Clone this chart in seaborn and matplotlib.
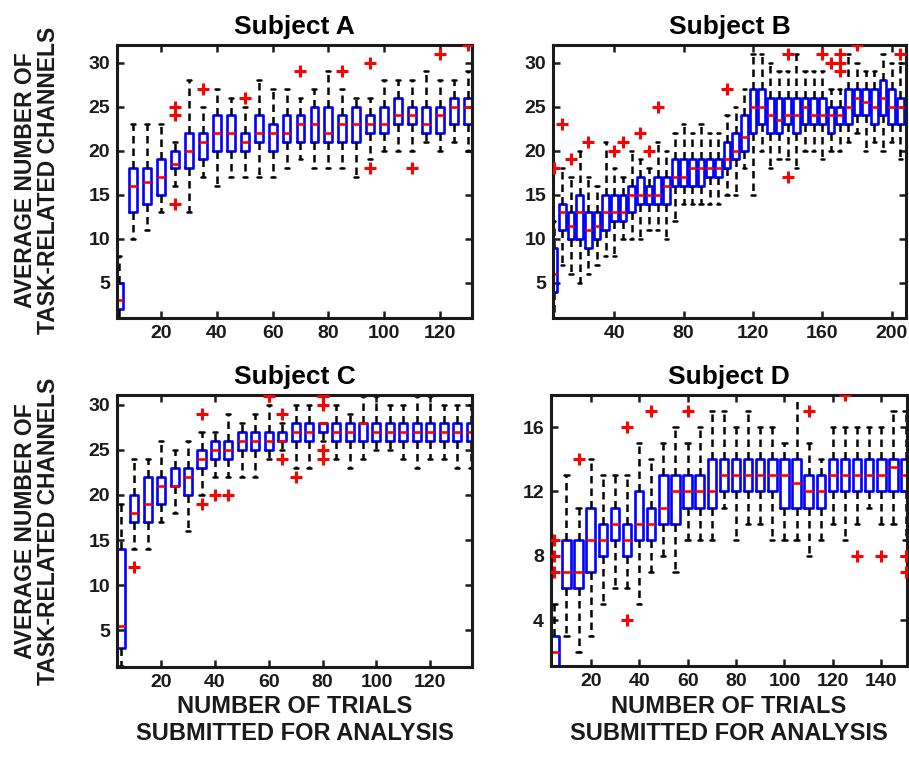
import matplotlib
matplotlib.use("Agg")
import matplotlib.pyplot as plt
import seaborn as sns

# ---------------------------------------------------------------
# Box summaries per subject: trial counts, quartiles, whisker ends,
# and outlying averages (red crosses)
# ---------------------------------------------------------------

# Subject A
A_trials = list(range(5, 131, 5))
A_q1  = [2, 13, 14, 15, 18, 18, 19, 20, 20, 20, 21, 20, 21,
         21, 21, 21, 21, 21, 22, 22, 23, 23, 22, 22, 23, 23]
A_med = [3, 16, 16.5, 17, 18.5, 20, 21, 22, 22, 21, 22, 22, 22,
         23, 23, 22, 23, 23, 23, 23, 24, 24, 23, 24, 25, 25]
A_q3  = [5, 18, 18, 19, 20, 22, 22, 24, 24, 22, 24, 23, 24,
         24, 25, 25, 24, 25, 24, 25, 26, 25, 25, 25, 26, 26]
A_lo  = [1, 10, 11, 13, 16, 13, 17, 16, 17, 17, 17, 17, 18,
         19, 18, 18, 18, 17, 19, 20, 20, 20, 21, 20, 21, 20]
A_hi  = [8, 23, 23, 23, 21, 28, 25, 27, 26, 25, 28, 27, 27,
         26, 27, 29, 27, 26, 26, 28, 28, 28, 29, 28, 28, 29]
A_out_x = [25, 25, 25, 35, 50, 70, 85, 95, 95, 110, 120, 130]
A_out_y = [25, 24, 14, 27, 26, 29, 29, 30, 18, 18, 31, 32]

# Subject B
B_trials = list(range(5, 211, 5))
B_q1  = [4, 11, 10, 10, 9, 10, 11, 12, 12, 13, 14, 14, 14, 14,
         16, 16, 16, 16, 17, 17, 18, 19, 20, 22, 23, 22, 22, 23,
         22, 23, 23, 23, 22, 23, 23, 24, 24, 23, 24, 23, 23, 24]
B_med = [6, 13, 11.5, 13, 11, 11.5, 13, 13, 13, 15, 15, 15, 15, 16,
         17, 17, 18, 18, 18, 18, 19, 20, 21.5, 25, 25, 24, 23.5, 24,
         24, 25, 24, 24, 24, 24, 25, 26, 25.5, 25, 26, 25, 25, 25]
B_q3  = [9, 14, 13, 15, 13, 13, 15, 15, 15, 16, 17, 16, 17, 17,
         19, 19, 19, 19, 19, 19, 21, 22, 24, 27, 27, 26, 26, 26,
         26, 26, 26, 26, 25, 25, 27, 27, 27, 27, 28, 27, 26, 27]
B_lo  = [1, 7, 6, 5, 6, 7, 8, 8, 10, 10, 10, 11, 11, 10,
         12, 14, 14, 14, 14, 14, 15, 15, 18, 15, 20, 18, 19, 19,
         18, 20, 20, 19, 20, 20, 21, 22, 20, 21, 20, 21, 19, 20]
B_hi  = [12, 18, 17, 20, 17, 16, 21, 18, 17, 20, 19, 18, 21, 20,
         22, 23, 22, 23, 22, 22, 24, 25, 27, 31, 31, 30, 29, 29,
         31, 29, 29, 29, 27, 27, 31, 30, 29, 29, 31, 30, 30, 29]
B_out_x = [5, 10, 15, 25, 40, 45, 55, 60, 65, 105, 140, 140,
           160, 165, 170, 170, 170, 180, 205]
B_out_y = [18, 23, 19, 21, 20, 21, 22, 20, 25, 27, 31, 17,
           31, 30, 29, 30, 31, 32, 31]

# Subject C
C_trials = list(range(5, 136, 5))
C_q1  = [3, 17, 17, 19, 21, 20, 23, 24, 24, 25, 25, 25, 26, 26,
         26, 27, 26, 26, 26, 26, 26, 26, 26, 26, 26, 26, 26]
C_med = [5.5, 18, 19, 21, 21, 22, 24, 25, 25, 26, 26, 26, 26, 27,
         27, 28, 27, 27, 28, 27, 27, 27, 27, 27, 27, 27, 27]
C_q3  = [14, 20, 22, 22, 23, 23, 25, 26, 26, 27, 27, 27, 27, 28,
         28, 28, 28, 28, 28, 28, 28, 28, 28, 28, 28, 28, 28]
C_lo  = [1, 14, 14, 17, 18, 16, 20, 22, 22, 22, 22, 24, 25, 23,
         23, 26, 24, 23, 24, 25, 25, 24, 23, 24, 24, 23, 23]
C_hi  = [19, 24, 24, 26, 25, 26, 27, 27, 29, 28, 29, 30, 28, 30,
         30, 28, 30, 29, 31, 31, 30, 30, 31, 31, 30, 30, 30]
C_out_x = [10, 35, 35, 40, 45, 60, 65, 65, 70, 80, 80, 80, 80]
C_out_y = [12, 29, 19, 20, 20, 31, 29, 24, 22, 31, 30, 25, 24]

# Subject D
D_trials = list(range(5, 151, 5))
D_q1  = [1, 6, 6, 7, 8, 9, 8, 9, 9, 10, 10, 11, 11, 11, 12,
         12, 12, 12, 12, 11, 11, 11, 11, 12, 12, 12, 12, 12, 12, 12]
D_med = [2, 7, 7, 9, 9, 10, 9, 10, 10, 11, 12, 12, 12, 12, 13,
         13, 13, 13, 13, 13, 12.5, 12, 12, 13, 13, 13, 13, 13, 13.5, 13]
D_q3  = [3, 9, 9, 11, 10, 11, 10, 12, 11, 13, 13, 13, 13, 14, 14,
         14, 14, 14, 14, 14, 14, 13, 13, 14, 14, 14, 14, 14, 14, 14]
D_lo  = [1, 3, 2, 3, 5, 6, 6, 5, 7, 8, 7, 9, 9, 9, 11,
         9, 10, 10, 9, 9, 9, 8, 9, 10, 9, 10, 11, 10, 10, 9]
D_hi  = [5, 13, 11, 14, 13, 13, 13, 15, 14, 15, 16, 15, 16, 17, 17,
         16, 17, 16, 16, 15, 18, 15, 14, 16, 16, 16, 16, 16, 17, 17]
D_out_x = [5, 5, 5, 15, 35, 35, 45, 60, 110, 125, 130, 140, 150, 150]
D_out_y = [9, 8, 7, 14, 16, 4, 17, 17, 17, 18, 8, 8, 8, 7]

TITLES = ["Subject A", "Subject B", "Subject C", "Subject D"]
YLABEL = "AVERAGE NUMBER OF\nTASK-RELATED CHANNELS"
XLABEL = "NUMBER OF TRIALS\nSUBMITTED FOR ANALYSIS"

# ---------------------------------------------------------------
sns.set_theme(style="ticks")
plt.rcParams["font.family"] = ["Liberation Sans", "DejaVu Sans"]
plt.rcParams["font.weight"] = "bold"
plt.rcParams["axes.titleweight"] = "bold"

fig = plt.figure(figsize=(9.09, 7.57), dpi=100)
W, H = 909.0, 757.0
INK = "#1a1a1a"


def axes_at(left, top, right, bottom):
    return fig.add_axes([left / W, 1 - bottom / H, (right - left) / W, (bottom - top) / H])


def draw_panel(ax, trials, q1, med, q3, lo, hi, out_x, out_y, width,
               xlim, ylim, xticks, yticks, title):
    stats = [dict(med=m, q1=a, q3=b, whislo=l, whishi=h, fliers=[])
             for a, m, b, l, h in zip(q1, med, q3, lo, hi)]
    ax.bxp(stats, positions=trials, widths=width, capwidths=width * 0.5,
           showfliers=False, manage_ticks=False,
           boxprops=dict(color="#0000ff", linewidth=1.9),
           medianprops=dict(color="#ff0000", linewidth=1.9),
           whiskerprops=dict(color="black", linewidth=1.8, linestyle=(0, (3, 2))),
           capprops=dict(color="black", linewidth=1.8))
    sns.scatterplot(x=out_x, y=out_y, marker="+", color="#ff0000", s=80,
                    linewidth=2.2, ax=ax, zorder=4)
    ax.set_xlim(*xlim)
    ax.set_ylim(*ylim)
    ax.set_xticks(xticks)
    ax.set_yticks(yticks)
    ax.set_xlabel("")
    ax.set_ylabel("")
    ax.set_title(title, fontsize=19, fontweight="bold", pad=8, color="black")
    for sp in ax.spines.values():
        sp.set_visible(True)
        sp.set_linewidth(2.2)
        sp.set_color(INK)
    ax.tick_params(direction="in", length=5, width=1.8, top=True, right=True,
                   labelsize=14, colors=INK, labelcolor=INK, pad=5)


axA = axes_at(117, 45, 472, 318)
axB = axes_at(553, 45, 906, 318)
axC = axes_at(117, 395, 472, 667)
axD = axes_at(551, 395, 907, 666)

draw_panel(axA, A_trials, A_q1, A_med, A_q3, A_lo, A_hi, A_out_x, A_out_y, 2.8,
           (4.2, 131.5), (1, 32), [20, 40, 60, 80, 100, 120], [5, 10, 15, 20, 25, 30], TITLES[0])
draw_panel(axB, B_trials, B_q1, B_med, B_q3, B_lo, B_hi, B_out_x, B_out_y, 3.8,
           (4.6, 208.3), (1, 32), [40, 80, 120, 160, 200], [5, 10, 15, 20, 25, 30], TITLES[1])
draw_panel(axC, C_trials, C_q1, C_med, C_q3, C_lo, C_hi, C_out_x, C_out_y, 3.0,
           (3.6, 135.5), (0.9, 31.1), [20, 40, 60, 80, 100, 120], [5, 10, 15, 20, 25, 30], TITLES[2])
draw_panel(axD, D_trials, D_q1, D_med, D_q3, D_lo, D_hi, D_out_x, D_out_y, 3.5,
           (3.6, 150.6), (1.15, 18), [20, 40, 60, 80, 100, 120, 140], [4, 8, 12, 16], TITLES[3])

# shared row / column labels
for yc in (180, 531):
    fig.text(36.6 / W, 1 - yc / H, YLABEL, rotation=90, ha="center", va="center",
             fontsize=16.5, fontweight="bold", linespacing=1.0, color=INK)
for xc in (294.5, 729):
    fig.text(xc / W, 1 - 720 / H, XLABEL, ha="center", va="center",
             fontsize=17, fontweight="bold", linespacing=1.2, color=INK)

fig.savefig("out.png", dpi=100)
